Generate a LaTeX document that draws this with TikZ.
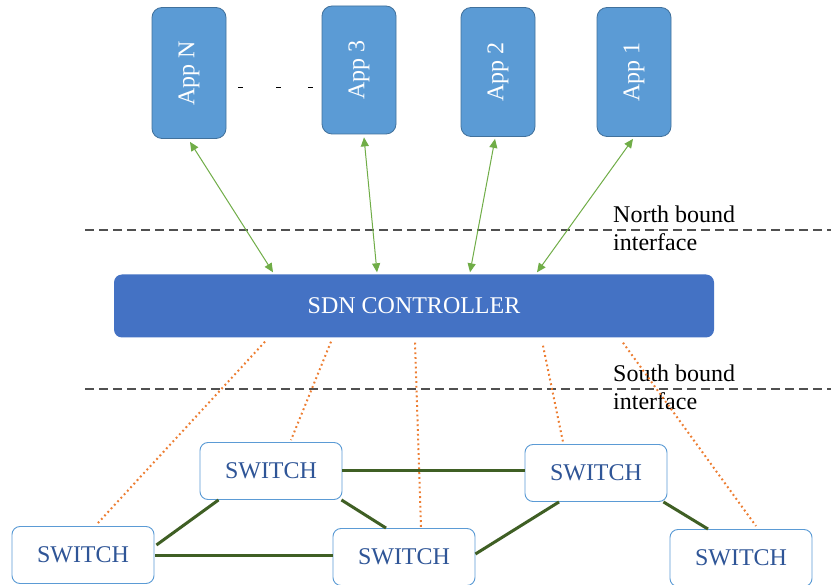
\documentclass[tikz,border=0pt]{standalone}
\usepackage{fontspec}
\setmainfont{Liberation Serif}
\usetikzlibrary{arrows.meta}
\definecolor{appfill}{HTML}{5B9BD5}
\definecolor{appdraw}{HTML}{41719C}
\definecolor{ctrlfill}{HTML}{4472C4}
\definecolor{swdraw}{HTML}{5B9BD5}
\definecolor{swtext}{HTML}{2F5597}
\definecolor{nbgreen}{HTML}{70AD47}
\definecolor{linkgreen}{HTML}{3F5F24}
\definecolor{sborange}{HTML}{ED7D31}
\definecolor{dashgray}{HTML}{505050}
\tikzset{
  appbox/.style={draw=appdraw, line width=0.8pt, fill=appfill, rounded corners=10pt,
    minimum width=74pt, inner sep=0pt, text=white, font=\fontsize{24}{24}\selectfont},
  ctrlbox/.style={fill=ctrlfill, rounded corners=8pt, minimum width=600pt, minimum height=63pt,
    inner sep=0pt, text=white, font=\fontsize{24}{24}\selectfont},
  swbox/.style={draw=swdraw, line width=0.9pt, fill=white, rounded corners=8pt,
    minimum width=142pt, minimum height=57pt, inner sep=0pt, text=swtext,
    font=\fontsize{24}{24}\selectfont},
  nbarrow/.style={draw=nbgreen, line width=1pt,
    {Triangle[length=9pt,width=8pt]}-{Triangle[length=9pt,width=8pt]}},
  sbline/.style={draw=sborange, line width=2pt, dash pattern=on 1.8pt off 3pt},
  swlink/.style={draw=linkgreen, line width=3pt},
  ifline/.style={draw=dashgray, line width=1.3pt, dash pattern=on 9pt off 5pt},
  iflabel/.style={anchor=base west, inner sep=0pt, font=\fontsize{24}{24}\selectfont},
  dotdash/.style={draw=black, line width=1pt}
}
\begin{document}
\begin{tikzpicture}[x=1pt,y=-1pt]
\useasboundingbox[fill=white] (0,0) rectangle (831,585);

% interface lines
\coordinate (nbL) at (85,230);
\coordinate (nbR) at (831,230);
\coordinate (sbL) at (85,389);
\coordinate (sbR) at (831,389);
\draw[ifline] (nbL) -- (nbR);
\draw[ifline] (sbL) -- (sbR);
\node[iflabel] (nb1) at (613,223) {North bound};
\node[iflabel] (nb2) at (613,251) {interface};
\node[iflabel] (sb1) at (613,382) {South bound};
\node[iflabel] (sb2) at (613,410) {interface};

% apps
\node[appbox, minimum height=131pt] (appN) at (189,73) {\rotatebox{90}{App N}};
\node[appbox, minimum height=128pt] (app3) at (359,70) {\rotatebox{90}{App 3}};
\node[appbox, minimum height=129pt] (app2) at (498,72) {\rotatebox{90}{App 2}};
\node[appbox, minimum height=129pt] (app1) at (634,72) {\rotatebox{90}{App 1}};

% dots between App N and App 3
\coordinate (d1a) at (238,88); \coordinate (d1b) at (243,88);
\coordinate (d2a) at (276,88); \coordinate (d2b) at (281,88);
\coordinate (d3a) at (308,88); \coordinate (d3b) at (313,88);
\draw[dotdash] (d1a) -- (d1b);
\draw[dotdash] (d2a) -- (d2b);
\draw[dotdash] (d3a) -- (d3b);

% controller
\node[ctrlbox] (ctrl) at (414,306) {SDN CONTROLLER};

% switches
\node[swbox] (sw1) at (271,471) {SWITCH};
\node[swbox] (sw2) at (596,473) {SWITCH};
\node[swbox] (sw3) at (83,555) {SWITCH};
\node[swbox] (sw4) at (404,557) {SWITCH};
\node[swbox] (sw5) at (741,558) {SWITCH};

% northbound arrows
\draw[nbarrow] ([xshift=1pt,yshift=-3pt]appN.south) -- ([xshift=-141pt,yshift=2pt]ctrl.north);
\draw[nbarrow] ([xshift=5pt,yshift=-3pt]app3.south) -- ([xshift=-37pt,yshift=2pt]ctrl.north);
\draw[nbarrow] ([xshift=-3pt,yshift=-2pt]app2.south) -- ([xshift=56pt,yshift=2pt]ctrl.north);
\draw[nbarrow] ([xshift=-1pt,yshift=-2pt]app1.south) -- ([xshift=123pt,yshift=2pt]ctrl.north);

% southbound dotted lines
\draw[sbline] ([xshift=-149pt,yshift=-4pt]ctrl.south) -- ([xshift=14pt,yshift=2pt]sw3.north);
\draw[sbline] ([xshift=-83pt,yshift=-4pt]ctrl.south) -- ([xshift=20pt,yshift=2pt]sw1.north);
\draw[sbline] ([xshift=1pt,yshift=-5pt]ctrl.south) -- ([xshift=17pt,yshift=1pt]sw4.north);
\draw[sbline] ([xshift=129pt,yshift=-8pt]ctrl.south) -- ([xshift=-33pt,yshift=2pt]sw2.north);
\draw[sbline] ([xshift=209pt,yshift=-5pt]ctrl.south) -- ([xshift=15pt,yshift=3pt]sw5.north);

% switch links
\draw[swlink] (sw1.east) -- (sw1.east -| sw2.west);
\draw[swlink] ([xshift=19pt]sw1.south west) -- ([xshift=2pt,yshift=10pt]sw3.east);
\draw[swlink] ([xshift=-1pt]sw1.south east) -- ([xshift=-18pt]sw4.north);
\draw[swlink] ([xshift=1pt]sw3.east) -- (sw3.east -| sw4.west);
\draw[swlink] ([xshift=-37pt]sw2.south) -- ([yshift=3pt]sw4.east);
\draw[swlink] ([xshift=-4pt]sw2.south east) -- ([xshift=-33pt]sw5.north);
\end{tikzpicture}
\end{document}
